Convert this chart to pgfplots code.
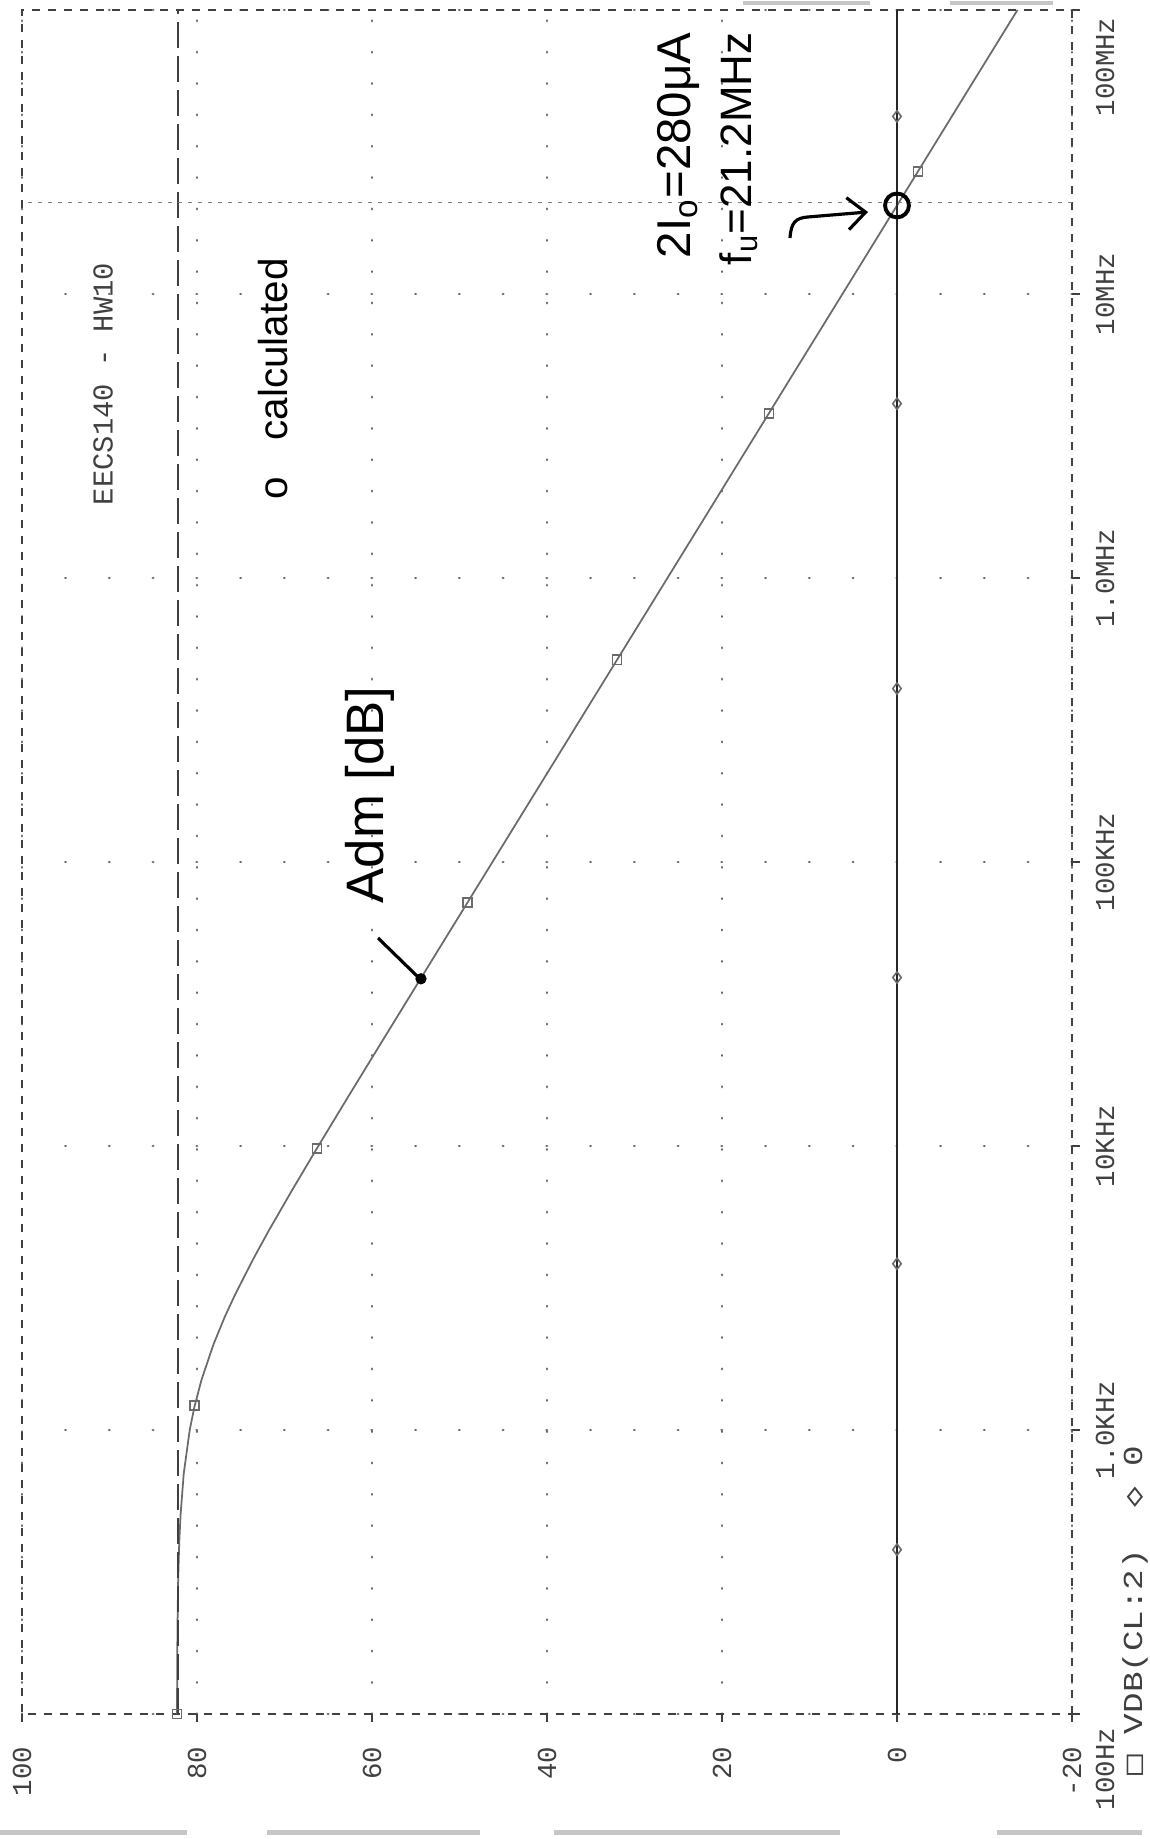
\documentclass[border=0pt]{standalone}
\usepackage{pgfplots}
\pgfplotsset{compat=1.18}
\usetikzlibrary{arrows.meta}
\usepackage{fontspec}
\setmainfont{Liberation Sans}
\setmonofont{Liberation Mono}
\newfontfamily\dvm{DejaVu Sans Mono}
\newfontfamily\hand{Liberation Sans}
\definecolor{ink}{gray}{0.25}
\definecolor{trace}{gray}{0.42}
\definecolor{griddot}{gray}{0.40}
\newcommand\tickfont{\ttfamily\fontsize{7.8}{9}\selectfont}
\begin{document}
\begin{tikzpicture}
\path[use as bounding box] (0,0) rectangle (114.9mm,183.9mm);
\begin{axis}[
  at={(2.2mm,12.5mm)}, anchor=south west,
  scale only axis, width=105mm, height=170.4mm,
  xmin=-20, xmax=100, x dir=reverse,
  ymode=log, ymin=100, ymax=1e8,
  xtick={-20,0,20,40,60,80,100},
  xticklabels={-20,0,20,40,60,80,100},
  ytick={100,1000,10000,100000,1000000,10000000,100000000},
  yticklabels={100Hz\hspace*{11mm},1.0KHz,10KHz,100KHz,1.0MHz,10MHz,100MHz\hspace*{11.4mm}},
  yminorticks=false, xminorticks=false,
  xtick pos=bottom, ytick pos=right, yticklabel pos=right,
  tick align=outside, major tick length=0.8mm,
  tick style={ink, line width=0.4pt},
  xticklabel style={rotate=90, anchor=east, inner sep=0pt, font=\tickfont, text=ink},
  yticklabel style={rotate=90, anchor=north, inner sep=0pt, font=\tickfont, text=ink},
  xticklabel shift=2.4mm, yticklabel shift=1.5mm,
  axis line style={ink, line width=0.45pt, dash pattern=on 0.8mm off 0.8mm},
  grid=major,
  major x grid style={griddot, line width=0.8pt, line cap=round, dash pattern=on 0.1pt off 3.1mm},
  major y grid style={griddot, line width=0.8pt, line cap=round, dash pattern=on 0.1pt off 4.34mm},
]
% VDB(CL:2) trace
\addplot[trace, line width=0.5pt] coordinates {
 (82.28,100) (82.26,150) (82.23,200) (82.15,300) (82.03,400) (81.88,500)
 (81.52,700) (80.83,1000) (80.31,1200) (79.49,1500) (78.12,2000) (76.83,2500)
 (75.64,3000) (73.57,4000) (71.85,5000) (69.12,7000) (66.13,10000) (62.67,15000)
 (60.19,20000) (56.68,30000) (52.25,50000) (46.23,100000) (40.21,200000)
 (32.25,500000) (26.23,1000000) (20.21,2000000) (12.26,5000000) (6.23,10000000)
 (0.21,20000000) (-7.74,50000000) (-13.77,100000000)};
\addplot[only marks, mark=square, mark size=1.3pt, trace, mark options={line width=0.45pt}] coordinates {
 (82.28,100) (80.26,1220) (66.30,9800) (49.09,72000) (32.00,515000) (14.64,3800000) (-2.39,27000000)};
% 0 dB trace
\addplot[black!85, line width=0.7pt] coordinates {(0,100) (0,100000000)};
\addplot[only marks, mark=diamond, mark size=1.6pt, trace, mark options={line width=0.45pt}] coordinates {
 (0,379) (0,3850) (0,39200) (0,408000) (0,4110000) (0,42200000)};
% DC gain cursor
\addplot[ink, line width=0.5pt, dash pattern=on 2.6mm off 0.8mm] coordinates {(82.2,100) (82.2,100000000)};
% fu cursor
\addplot[gray, line width=0.45pt, dash pattern=on 0.4mm off 0.6mm] coordinates {(-20,21000000) (100,21000000)};
% handwritten marks
\addplot[only marks, mark=*, mark size=1.4pt, black] coordinates {(54.4,38800)};
\addplot[only marks, mark=o, mark size=3.4pt, black, mark options={line width=1.1pt}] coordinates {(0,20500000)};
\end{axis}
\begin{scope}[x=0.1mm, y=-0.1mm, yshift=183.9mm]
 \node[rotate=90, font=\ttfamily\fontsize{8.2}{9}\selectfont, text=ink] at (103,384) {EECS140 - HW10};
 \node[rotate=90, anchor=west, inner sep=0pt, font=\hand\fontsize{11.5}{12}\selectfont] at (273,500) {o\hspace{0.9em}calculated};
 \node[rotate=90, inner sep=0pt, font=\hand\fontsize{15}{16}\selectfont] at (370,795) {Adm [dB]};
 \draw[line width=0.9pt] (378,938) -- (417,976);
 \node[rotate=90, anchor=east, inner sep=0pt, font=\hand\fontsize{13.5}{14}\selectfont] at (678,32) {2I\textsubscript{o}=280μA};
 \node[rotate=90, anchor=east, inner sep=0pt, font=\hand\fontsize{12.5}{13}\selectfont] at (739,32) {f\textsubscript{u}=21.2MHz};
 \draw[line width=0.9pt, -{Straight Barb[length=1.8mm,width=3.2mm]}] (790,238) .. controls (791,222) and (796,218) .. (808,217) -- (868,212);
 \node[rotate=90, anchor=west, inner sep=0pt, font=\tickfont, text=ink] at (1135,1776) {\scalebox{1.25}[1]{{\dvm □} VDB(CL:2)\ \ {\dvm ◇} 0}};
 \fill[gray!45] (0,1830) rectangle (187,1835);
 \fill[gray!45] (267,1830) rectangle (480,1835);
 \fill[gray!45] (554,1830) rectangle (840,1835);
 \fill[gray!45] (997,1830) rectangle (1142,1835);
 \fill[gray!45] (743,1) rectangle (870,5);
 \fill[gray!45] (950,1) rectangle (1053,5);
\end{scope}
\end{tikzpicture}
\end{document}
